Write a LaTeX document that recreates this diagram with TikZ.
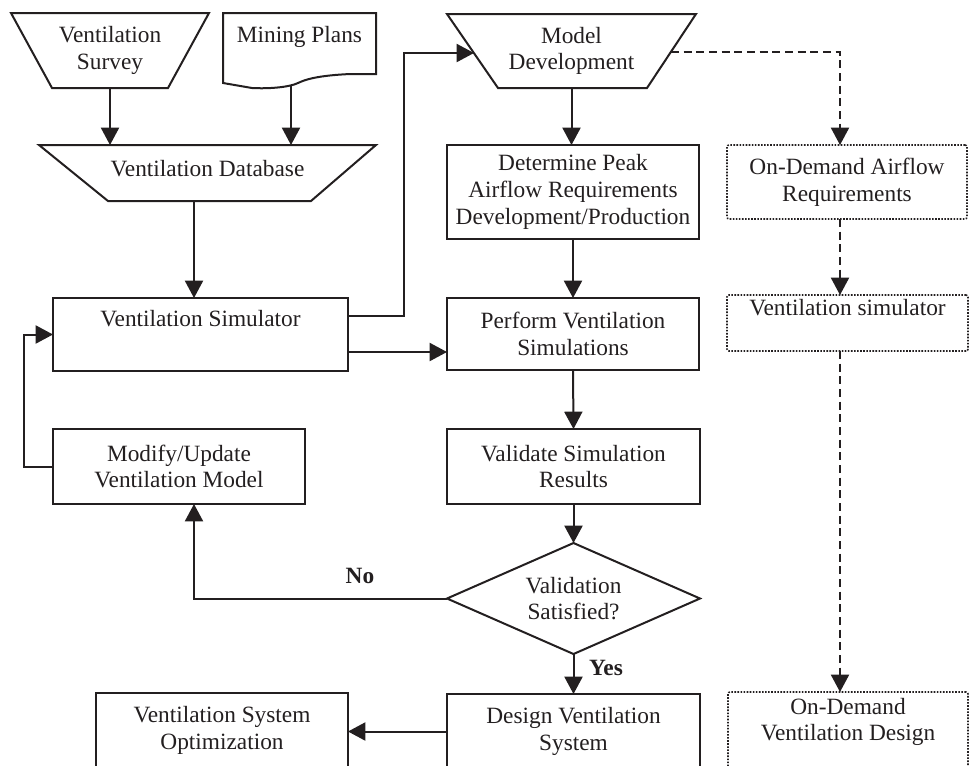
\documentclass[tikz,border=0pt]{standalone}
\usepackage{fontspec}
\setmainfont{Liberation Serif}
\usetikzlibrary{arrows.meta,calc,shapes.geometric}
\definecolor{ink}{RGB}{35,31,32}
\begin{document}
\begin{tikzpicture}[x=0.75pt,y=-0.75pt,
  font=\fontsize{17.5}{20}\selectfont,
  every node/.style={inner sep=0pt,outer sep=0pt,align=center,text=ink},
  sz/.style 2 args={minimum width=#1*0.75pt,minimum height=#2*0.75pt},
  box/.style={draw=ink,line width=1.5pt,rectangle},
  dotbox/.style={draw=ink,line width=1.2pt,dash pattern=on 1.2pt off 1.1pt,rounded corners=1.5pt,rectangle},
  shapeline/.style={draw=ink,line width=1.5pt,line join=miter},
  arr/.style={draw=ink,line width=1.5pt,-{Triangle[length=13pt,width=13.5pt]}},
  darr/.style={arr,dash pattern=on 6pt off 3.5pt},
  yesno/.style={font=\fontsize{17.5}{20}\selectfont\bfseries}
]
\useasboundingbox (0,0) rectangle (971,765);
\clip (0,0) rectangle (971,765);

% ---- inputs ----
\node[sz={198}{75}] (survey) at (110,50.5) {Ventilation\\Survey};
\draw[shapeline] (survey.north west) -- (survey.north east)
  -- ($(survey.south east)+(-41,0)$) -- ($(survey.south west)+(41,0)$) -- cycle;

\node (plans) at (299.5,37) {Mining Plans};
\draw[shapeline] (223,83) -- (223,13) -- (376,13) -- (376,74) -- (350,74)
  .. controls (330,75) and (310,77) .. (298,83)
  .. controls (290,87) and (270,89) .. (252,88) -- cycle;
\coordinate (plansout) at (291,86);

\node[sz={337}{56}] (db) at (207.5,173) {};
\node (dbtext) at (207.5,169) {Ventilation Database};
\draw[shapeline] (db.north west) -- (db.north east)
  -- ($(db.south east)+(-65,0)$) -- ($(db.south west)+(69,0)$) -- cycle;

% ---- left column ----
\node[box,sz={295}{73}] (sim) at (200.5,334.5) {Ventilation Simulator\\\phantom{Ag}};
\node[box,sz={252}{75}] (modify) at (179,466.5) {Modify/Update\\Ventilation Model};
\node[box,sz={252}{75}] (optim) at (222,730.5) {Ventilation System\\Optimization};

% ---- centre column ----
\node[sz={249}{74}] (moddev) at (571.5,51) {Model\\Development};
\draw[shapeline] (moddev.north west) -- (moddev.north east)
  -- ($(moddev.south east)+(-49,0)$) -- ($(moddev.south west)+(51,0)$) -- cycle;

\node[box,sz={252}{94}] (det) at (573,192) {Determine Peak\\Airflow Requirements\\Development/Production};
\node[box,sz={252}{72}] (perf) at (573,334) {Perform Ventilation\\Simulations};
\node[box,sz={253}{75}] (valid) at (573.5,466.5) {Validate Simulation\\Results};
\node[draw=ink,line width=1.5pt,diamond,shape aspect=2.28,sz={253}{111}] (dia) at (573.5,598.5) {Validation\\Satisfied?};
\node[box,sz={253}{75}] (design) at (573.5,731.5) {Design Ventilation\\System};

% ---- on-demand column ----
\node[dotbox,sz={240}{74}] (odair) at (847,182) {On-Demand Airflow\\Requirements};
\node[dotbox,sz={241}{56}] (odsim) at (847.5,323) {Ventilation simulator\\\phantom{Ag}};
\node[dotbox,sz={240}{78}] (oddes) at (848,731) {};
\node (oddestext) at (848,722) {On-Demand\\Ventilation Design};

% ---- labels ----
\node[yesno] (no) at (360,576) {No};
\node[yesno] (yes) at (606,668) {Yes};

% ---- connectors ----
\coordinate (c194) at (194,0);
\coordinate (mdin) at (474,53);
\coordinate (mdout) at (671,52);
\coordinate (dcol) at (840,0);
\coordinate (simhigh) at ($(sim.east)+(0,-18.5)$);
\coordinate (simlow) at ($(sim.east)+(0,17.5)$);

\draw[arr] (survey.south) -- (survey.south |- db.north);
\draw[arr] (plansout) -- (plansout |- db.north);
\draw[arr] (c194 |- db.south) -- (c194 |- sim.north);
\draw[arr] (simhigh) -| ($(mdin)+(-70,0)$) -- (mdin);
\draw[arr] (simlow) -- (simlow -| perf.west);
\draw[arr] (moddev.south) -- (moddev.south |- det.north);
\draw[arr] (det.south) -- (perf.north);
\draw[arr] (perf.south) -- (valid.north);
\draw[arr] (valid.south) -- (dia.north);
\draw[arr] (dia.south) -- (design.north);
\draw[arr] (dia.west) -| (c194 |- modify.south);
\draw[arr] (design.west) -- (design.west -| optim.east);
\draw[arr] (modify.west) -- ++(-29,0) |- (sim.west);

\draw[darr] (mdout) -- (dcol |- mdout) -- (dcol |- odair.north);
\draw[darr] (dcol |- odair.south) -- (dcol |- odsim.north);
\draw[darr] (dcol |- odsim.south) -- (dcol |- oddes.north);
\end{tikzpicture}
\end{document}
